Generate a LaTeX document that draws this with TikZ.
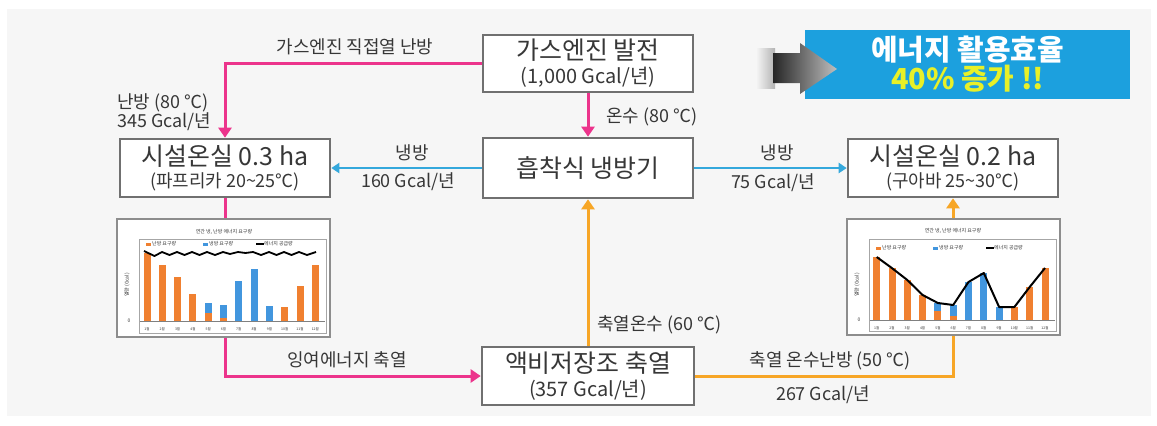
\documentclass[tikz,border=0pt]{standalone}
\usepackage{fontspec}
\setmainfont{Noto Sans CJK KR}
\usetikzlibrary{arrows.meta}
\definecolor{pk}{RGB}{236,52,140}
\definecolor{cy}{RGB}{52,168,220}
\definecolor{og}{RGB}{247,166,38}
\definecolor{bx}{RGB}{112,112,112}
\definecolor{tx}{RGB}{55,55,55}
\definecolor{bgc}{RGB}{246,246,246}
\definecolor{barO}{RGB}{240,128,48}
\definecolor{barB}{RGB}{66,150,222}
\definecolor{bann}{RGB}{28,160,222}
\definecolor{yel}{RGB}{232,240,40}
\begin{document}
\begin{tikzpicture}[x=1bp,y=-1bp,
  box/.style={draw=bx, line width=2.6bp, fill=white, minimum width=210bp, minimum height=58bp, inner sep=0pt, align=center, text=tx, font=\fontsize{25}{26}\selectfont},
  chartbox/.style={draw=bx!80, line width=2bp, fill=white, inner sep=0pt},
  lbl/.style={text=tx, inner sep=1bp, font=\fontsize{18}{19}\selectfont},
  tiny/.style={text=tx, inner sep=0pt, font=\fontsize{5}{6}\selectfont},
  pline/.style={draw=pk, line width=3bp},
  cline/.style={draw=cy, line width=2.6bp},
  oline/.style={draw=og, line width=3bp},
  arr/.style={-{Triangle[length=10bp,width=13bp]}},
  carr/.style={-{Triangle[length=8bp,width=10bp]}}]
\useasboundingbox (0,0) rectangle (1157,425);
\fill[white] (0,0) rectangle (1157,425);
\fill[bgc] (7,9) rectangle (1151,416);

% boxes
\node[box, minimum height=57bp] (gas) at (588,63.5) {가스엔진 발전\\[-2bp]{\fontsize{20}{22}\selectfont (1,000 Gcal/년)}};
\node[box, minimum height=60bp] (abs) at (588,168) {흡착식 냉방기};
\node[box] (left) at (225,168) {시설온실 0.3 ha\\[-4bp]{\fontsize{18}{20}\selectfont (파프리카 20\textasciitilde 25℃)}};
\node[box] (right) at (953,168) {시설온실 0.2 ha\\[-4bp]{\fontsize{18}{20}\selectfont (구아바 25\textasciitilde 30℃)}};
\node[box, minimum width=212bp] (store) at (588,376) {액비저장조 축열\\[-2bp]{\fontsize{20}{22}\selectfont (357 Gcal/년)}};

% chart frames
\node[chartbox, minimum width=213bp, minimum height=118bp] (chL) at (223.5,278) {};
\node[chartbox, minimum width=213bp, minimum height=116bp] (chR) at (953.5,277) {};

% left chart contents
\draw[black!35, line width=0.5bp] (139,239) rectangle (326,333);
\node[tiny] (tL) at (224,232) {연간 냉, 난방 에너지 요구량};
\fill[barO] (146,242.5) rectangle (151,245.5);
\node[tiny, anchor=west] (lgL1) at (152,244) {난방 요구량};
\fill[barB] (203,242.5) rectangle (208,245.5);
\node[tiny, anchor=west] (lgL2) at (209,244) {냉방 요구량};
\draw[black, line width=1.2bp] (256,244) -- (264,244);
\node[tiny, anchor=west] (lgL3) at (264,244) {에너지 공급량};
\node[tiny, rotate=90] (yL) at (127,285) {열량 (Gcal)};
\node[tiny] (zL) at (129,321) {0};
\foreach \i/\o/\t in {1/68/68,2/56/56,3/44/44,4/27/27,5/8/18,6/3/16,7/0/40,8/0/52,9/0/15,10/14/14,11/35/35,12/56/56}{
  \pgfmathsetmacro{\xx}{147+15.3*(\i-1)}
  \fill[barB] (\xx-3.5,321-\o) rectangle (\xx+3.5,321-\t);
  \fill[barO] (\xx-3.5,321) rectangle (\xx+3.5,321-\o);
  \node[tiny, font=\fontsize{3.5}{4}\selectfont] (mL\i) at (\xx,329) {\i 월};
}
\draw[black!50, line width=0.5bp] (140,321) -- (325,321);
\draw[black, line width=1.8bp, line join=round]
  (144,251) -- (154.5,256) -- (162,252) -- (169.5,255) -- (177,252) -- (184.5,255) -- (192,252)
  -- (199.5,255) -- (207,252) -- (215,255) -- (223,252) -- (230,254) -- (238,252) -- (245.5,253)
  -- (253,252) -- (261,255) -- (269,252) -- (276.5,255) -- (284,252) -- (291.5,255) -- (299,252)
  -- (307,255) -- (316,252);

% right chart contents
\draw[black!35, line width=0.5bp] (869,239) rectangle (1056,331);
\node[tiny] (tR) at (953,231) {연간 냉, 난방 에너지 요구량};
\fill[barO] (876,246.5) rectangle (881,249.5);
\node[tiny, anchor=west] (lgR1) at (882,248) {난방 요구량};
\fill[barB] (933,246.5) rectangle (938,249.5);
\node[tiny, anchor=west] (lgR2) at (939,248) {냉방 요구량};
\draw[black, line width=1.2bp] (986,248) -- (994,248);
\node[tiny, anchor=west] (lgR3) at (994,248) {에너지 공급량};
\node[tiny, rotate=90] (yR) at (857,285) {열량 (Gcal)};
\node[tiny] (zR) at (859,320) {0};
\foreach \i/\o/\t in {1/63/63,2/52/52,3/40/40,4/25/25,5/9/17,6/4/15,7/0/38,8/0/47,9/0/13,10/13/13,11/33/33,12/52/52}{
  \pgfmathsetmacro{\xx}{876.7+15.3*(\i-1)}
  \fill[barB] (\xx-3.5,320-\o) rectangle (\xx+3.5,320-\t);
  \fill[barO] (\xx-3.5,320) rectangle (\xx+3.5,320-\o);
  \node[tiny, font=\fontsize{3.5}{4}\selectfont] (mR\i) at (\xx,328) {\i 월};
}
\draw[black!50, line width=0.5bp] (870,320) -- (1055,320);
\draw[black, line width=2bp, line join=round]
  (876.7,257) -- (891.8,268) -- (907.3,280) -- (922.6,295) -- (937.9,303) -- (953.2,305)
  -- (968.5,282) -- (983.8,273) -- (999.1,307) -- (1014.4,307) -- (1029.7,287) -- (1045,268);

% connectors
\draw[pline, arr] (gas.west) -| (left.north);
\draw[pline, arr] (gas.south) -- (abs.north);
\draw[cline, carr] (abs.west) -- (left.east);
\draw[cline, carr] (abs.east) -- (right.west);
\draw[pline] (left.south) -- (left.south |- chL.north);
\draw[pline, arr] (left.south |- chL.south) |- (store.west);
\draw[oline, arr] (store.north) -- (abs.south);
\draw[oline] (store.east) -| (right.south |- chR.south);
\draw[oline, arr] (right.south |- chR.north) -- (right.south);

% labels
\node[lbl] (l1) at (355,47) {가스엔진 직접열 난방};
\node[lbl, anchor=north west, align=left, font=\fontsize{18}{16}\selectfont] (l2) at (116,92) {난방 (80 ℃)\\345 Gcal/년};
\node[lbl, anchor=west] (l3) at (605,117) {온수 (80 ℃)};
\node[lbl] (l4) at (412,153) {냉방};
\node[lbl] (l5) at (408,182) {160 Gcal/년};
\node[lbl] (l6) at (777,153) {냉방};
\node[lbl] (l7) at (773,183) {75 Gcal/년};
\node[lbl, anchor=west] (l8) at (596,325) {축열온수 (60 ℃)};
\node[lbl] (l9) at (347,360) {잉여에너지 축열};
\node[lbl] (l10) at (830,361) {축열 온수난방 (50 ℃)};
\node[lbl] (l11) at (823,395) {267 Gcal/년};

% banner
\shade[left color=bgc, right color=black!30] (756,48) rectangle (775,88);
\node[fill=bann, minimum width=325bp, minimum height=69bp, inner sep=0pt, align=center, text=white,
  font=\fontsize{29}{29}\selectfont\bfseries] (ban) at (967.5,64.5) {에너지 활용효율\\{\color{yel}40\% 증가 !!}};
\shade[left color=black!85, right color=black!25]
  (773,53) -- (800,53) -- (800,43) -- (837,69) -- (800,94) -- (800,83) -- (773,83) -- cycle;
\end{tikzpicture}
\end{document}
